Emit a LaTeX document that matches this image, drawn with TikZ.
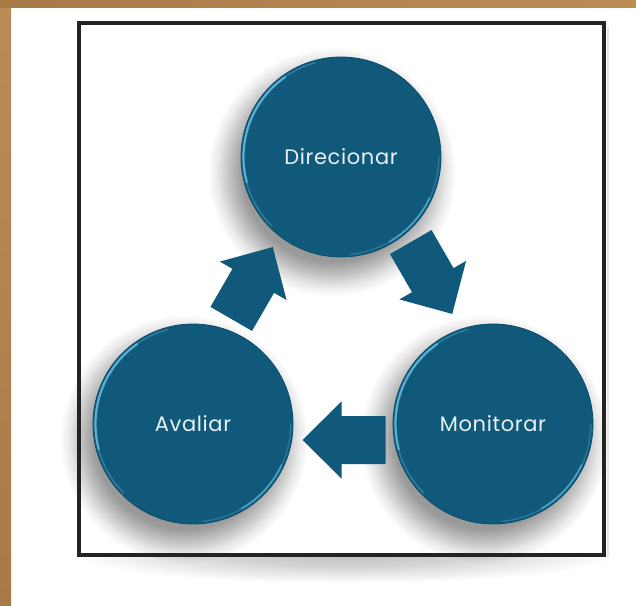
\documentclass[tikz,border=0pt]{standalone}
\usepackage{fontspec}
\newfontfamily\labelfont[LetterSpace=3]{Poppins}
\usetikzlibrary{calc,fadings}
\definecolor{tanc}{RGB}{186,140,86}
\definecolor{tandark}{RGB}{168,122,72}
\definecolor{tealc}{RGB}{16,89,122}
\definecolor{tealdark}{RGB}{12,76,106}
\definecolor{rimc}{RGB}{100,190,225}
\definecolor{framec}{RGB}{35,35,35}
\definecolor{textc}{RGB}{232,240,244}
\pgfdeclareradialshading{softedgeshade}{\pgfpointorigin}{color(0bp)=(pgftransparent!0); color(18bp)=(pgftransparent!12); color(20.5bp)=(pgftransparent!45); color(23bp)=(pgftransparent!80); color(25bp)=(pgftransparent!100); color(50bp)=(pgftransparent!100)}
\pgfdeclarefading{softedge}{\pgfuseshading{softedgeshade}}
\pgfdeclareradialshading{widefadeshade}{\pgfpointorigin}{color(0bp)=(pgftransparent!0); color(10bp)=(pgftransparent!30); color(25bp)=(pgftransparent!100); color(50bp)=(pgftransparent!100)}
\pgfdeclarefading{widefade}{\pgfuseshading{widefadeshade}}
\tikzset{
  circ/.style={circle, minimum size=200pt, inner sep=0pt, fill=tealc, draw=tealdark, line width=0.8pt,
    text=textc, font=\labelfont\fontsize{21}{25}\selectfont,
    path picture={
      \draw[rimc, line width=2.2pt, opacity=0.8, line cap=round] (path picture bounding box.center) ++(125:97.5) arc (125:195:97.5);
      \draw[rimc, line width=1.6pt, opacity=0.35] (path picture bounding box.center) ++(105:97.8) arc (105:225:97.8);
      \draw[rimc, line width=1.8pt, opacity=0.6, line cap=round] (path picture bounding box.center) ++(-60:97.5) arc (-60:-25:97.5);
      \draw[rimc, line width=1.5pt, opacity=0.28] (path picture bounding box.center) ++(-85:97.8) arc (-85:0:97.8);
    }},
  shadowc/.style={fill=black, fill opacity=0.45, path fading=softedge},
  pics/blockarrow/.style={code={
    \fill[tealc] (-41.5,-24) -- (2.5,-24) -- (2.5,-38.5) -- (41.5,0) -- (2.5,38.5) -- (2.5,24) -- (-41.5,24) -- cycle;
  }}
}
\begin{document}
\begin{tikzpicture}[x=1pt,y=1pt]
\useasboundingbox (0,0) rectangle (636,605);
\fill[white] (0,0) rectangle (636,605);
% tan border
\shade[top color=tanc, bottom color=tandark] (0,0) rectangle (11,605);
\shade[left color=tandark, right color=tanc] (0,597) rectangle (636,605);
% circle centres
\coordinate (cD) at (341,448);
\coordinate (cA) at (193,181);
\coordinate (cM) at (493,181);
% frame shadow
\begin{scope}
  \clip (0,0) rectangle (636,50);
  \fill[black, fill opacity=0.25, path fading=widefade] (345,50) ellipse (270 and 28);
\end{scope}
\draw[gray!20, line width=2pt] (608,48) -- (608,578);
% circle shadows
\path[shadowc] ($(cD)+(-9,-15)$) circle (124);
\path[shadowc] ($(cA)+(-9,-15)$) circle (124);
\path[shadowc] ($(cM)+(-9,-15)$) circle (124);
% frame
\draw[framec, line width=3.5pt] (79,50) rectangle (604,582);
% circles
\node[circ] (D) at (cD) {Direcionar};
\node[circ] (A) at (cA) {Avaliar};
\node[circ] (M) at (cM) {Monitorar};
% arrows
\pic[rotate=60] (a1) at ($(A)!0.5!(D)+(-15,7.5)$) {blockarrow};
\pic[rotate=-60] (a2) at ($(D)!0.5!(M)+(14.5,12.5)$) {blockarrow};
\pic[rotate=180] (a3) at ($(M)!0.5!(A)+(1,-16)$) {blockarrow};
\end{tikzpicture}
\end{document}
